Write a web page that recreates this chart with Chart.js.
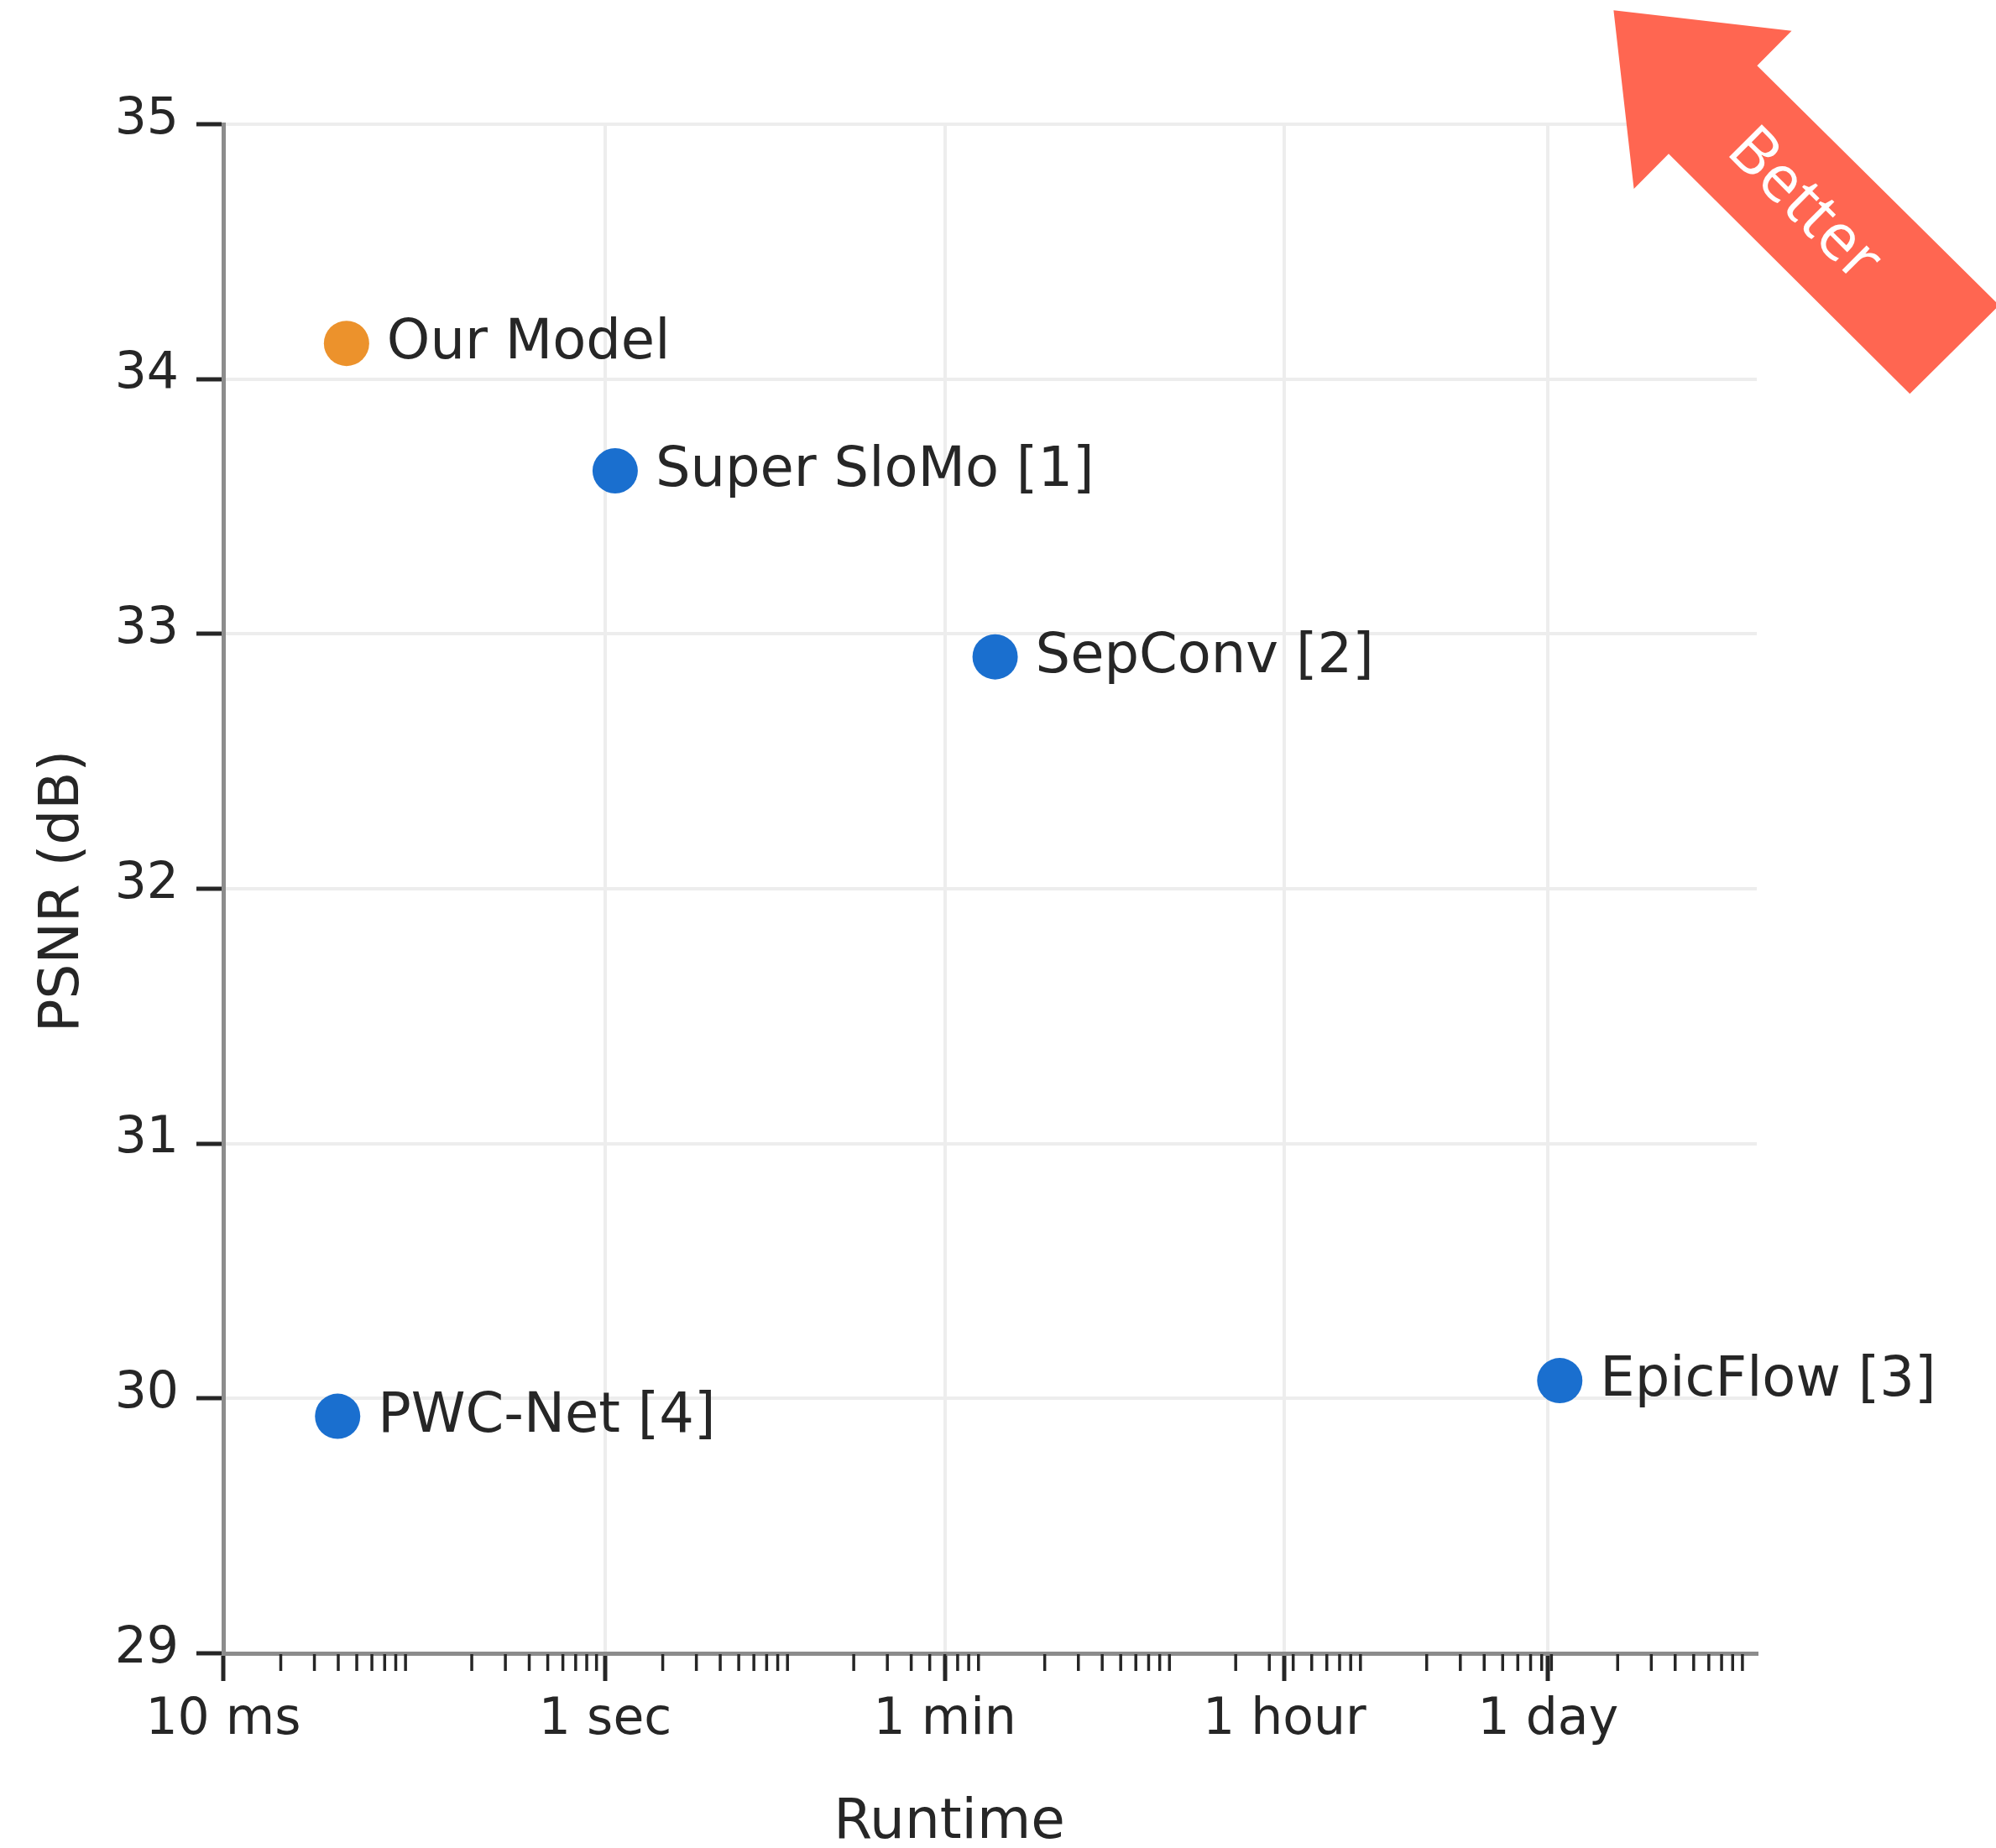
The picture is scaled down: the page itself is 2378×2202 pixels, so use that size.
<!DOCTYPE html>
<html>
<head>
<meta charset="utf-8">
<script src="https://cdn.jsdelivr.net/npm/chart.js@4/dist/chart.umd.min.js"></script>
<style>
html,body{margin:0;padding:0;background:#ffffff;}
canvas{display:block;}
</style>
</head>
<body>
<canvas id="c" width="2378" height="2202"></canvas>
<script>
// ---- data ----
const methods = ['Our Model', 'Super SloMo [1]', 'SepConv [2]', 'EpicFlow [3]', 'PWC-Net [4]'];
const runtimeSeconds = [0.0442, 1.127, 110, 99500, 0.0397];
const psnrDb = [34.14, 33.64, 32.91, 30.07, 29.93];
const isOurModel = [true, false, false, false, false];
const xTickValues = [0.01, 1, 60, 3600, 86400];
const xTickLabels = ['10 ms', '1 sec', '1 min', '1 hour', '1 day'];
const xMinorMantissas = [2, 3, 4, 5, 6, 7, 8, 9];
const xMinorDecades = [0.01, 0.1, 1, 10, 100, 1000, 10000, 100000];
const yTickValues = [29, 30, 31, 32, 33, 34, 35];
const xTitle = 'Runtime';
const yTitle = 'PSNR (dB)';
const arrowLabel = 'Better';

// ---- styles ----
const TEXT = '#262626';
const GRID = '#ededed';
const AXIS = '#8c8c8c';
const ORANGE = '#ec922c';
const BLUE = '#1a6fcf';
const ARROW = '#ff6651';

const xMinorValues = [];
xMinorDecades.forEach(d => xMinorMantissas.forEach(m => xMinorValues.push(m * d)));

const points = methods.map((m, i) => ({ x: runtimeSeconds[i], y: psnrDb[i] }));

const overlay = {
  id: 'overlay',
  afterDatasetsDraw(chart) {
    const ctx = chart.ctx;
    const xs = chart.scales.x;
    const ca = chart.chartArea;
    // minor ticks on the x axis
    ctx.save();
    ctx.strokeStyle = TEXT;
    ctx.lineWidth = 3.5;
    xMinorValues.forEach(v => {
      const px = xs.getPixelForValue(v);
      ctx.beginPath();
      ctx.moveTo(px, ca.bottom + 1);
      ctx.lineTo(px, ca.bottom + 21);
      ctx.stroke();
    });
    ctx.restore();

    // point labels
    const meta = chart.getDatasetMeta(0);
    ctx.save();
    ctx.font = '65.5px "DejaVu Sans"';
    ctx.fillStyle = TEXT;
    ctx.textAlign = 'left';
    ctx.textBaseline = 'alphabetic';
    meta.data.forEach((el, i) => {
      ctx.fillText(methods[i], el.x + 48, el.y + 18);
    });
    ctx.restore();

    // axis titles
    ctx.save();
    ctx.font = '66px "DejaVu Sans"';
    ctx.fillStyle = TEXT;
    ctx.textAlign = 'center';
    ctx.textBaseline = 'alphabetic';
    ctx.fillText(xTitle, ca.left + 865, chart.height - 12);
    ctx.translate(93, (ca.top + ca.bottom) / 2 + 3);
    ctx.rotate(-Math.PI / 2);
    ctx.fillText(yTitle, 0, 0);
    ctx.restore();
  },
  afterDraw(chart) {
    const ctx = chart.ctx;
    const R = chart.width;
    // "Better" arrow in the top-right corner
    const poly = [
      [-455.6, 12.3], [-243.5, 36.7], [-284.6, 78.3], [3.8, 363.8],
      [-102.7, 469.3], [-390.0, 183.3], [-431.4, 225.0]
    ];
    ctx.save();
    ctx.fillStyle = ARROW;
    ctx.beginPath();
    poly.forEach((p, i) => {
      if (i === 0) ctx.moveTo(R + p[0], p[1]); else ctx.lineTo(R + p[0], p[1]);
    });
    ctx.closePath();
    ctx.fill();
    ctx.translate(R - 229, 245);
    ctx.rotate(Math.PI / 4);
    ctx.font = '77px "Open Sans"';
    ctx.fillStyle = '#ffffff';
    ctx.textAlign = 'center';
    ctx.textBaseline = 'middle';
    ctx.fillText(arrowLabel, 0, 0);
    ctx.restore();
  }
};

new Chart(document.getElementById('c'), {
  type: 'scatter',
  data: {
    datasets: [{
      data: points,
      backgroundColor: isOurModel.map(o => o ? ORANGE : BLUE),
      borderWidth: 0,
      pointRadius: 27,
      pointHoverRadius: 27,
      clip: false
    }]
  },
  options: {
    responsive: false,
    animation: false,
    devicePixelRatio: 1,
    layout: { padding: { left: 0, top: 148, right: 285, bottom: 0 } },
    plugins: { legend: { display: false }, tooltip: { enabled: false } },
    scales: {
      x: {
        type: 'logarithmic',
        position: 'bottom',
        min: 0.01,
        max: 1.07e6,
        afterBuildTicks: s => { s.ticks = xTickValues.map(v => ({ value: v })); },
        afterFit: s => { s.height = 232; },
        ticks: {
          autoSkip: false, maxRotation: 0, minRotation: 0,
          callback: (v, i) => xTickLabels[i],
          font: { family: 'DejaVu Sans', size: 60 },
          color: TEXT,
          padding: 11
        },
        grid: { color: GRID, lineWidth: 4, tickLength: 33, tickColor: TEXT, tickWidth: 5 },
        border: { display: true, color: AXIS, width: 5 }
      },
      y: {
        type: 'linear',
        position: 'left',
        min: 29,
        max: 35,
        afterBuildTicks: s => { s.ticks = yTickValues.map(v => ({ value: v })); },
        afterFit: s => { s.width = 266; },
        ticks: {
          callback: v => [String(v), ''],
          font: { family: 'DejaVu Sans', size: 60, lineHeight: '10px' },
          color: TEXT,
          padding: 21
        },
        grid: { color: GRID, lineWidth: 4, tickLength: 32, tickColor: TEXT, tickWidth: 5 },
        border: { display: true, color: AXIS, width: 5 }
      }
    }
  },
  plugins: [overlay]
});
</script>
</body>
</html>
